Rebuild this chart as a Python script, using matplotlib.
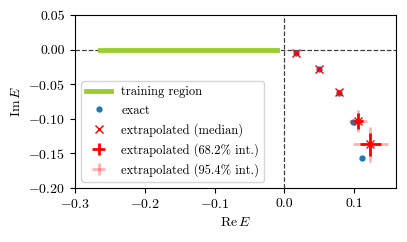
import numpy as np
import matplotlib
matplotlib.use("Agg")
import matplotlib.pyplot as plt

plt.rcParams["font.family"] = "serif"
plt.rcParams["font.serif"] = ["cmr10"]
plt.rcParams["mathtext.fontset"] = "cm"
plt.rcParams["axes.formatter.use_mathtext"] = True
plt.rcParams["font.size"] = 10

# training region on the real axis
train_re = [-0.264, -0.01]
train_im = [0.0, 0.0]

# exact resonance energies
re_exact = [0.017, 0.050, 0.078, 0.099, 0.111]
im_exact = [-0.005, -0.028, -0.062, -0.105, -0.157]

# extrapolated medians
re_med = [0.017, 0.050, 0.078, 0.106, 0.123]
im_med = [-0.005, -0.028, -0.061, -0.103, -0.137]

# half widths of the intervals
re_err68 = [0.002, 0.002, 0.002, 0.006, 0.015]
im_err68 = [0.002, 0.002, 0.003, 0.012, 0.017]
re_err95 = [0.003, 0.003, 0.004, 0.013, 0.025]
im_err95 = [0.003, 0.003, 0.004, 0.016, 0.025]

fig = plt.figure(figsize=(4.07, 2.42), dpi=100)
ax = fig.add_axes([0.184, 0.223, 0.789, 0.715])

ax.axhline(0, color="k", ls="--", lw=0.9, alpha=0.75, zorder=1)
ax.axvline(0, color="k", ls="--", lw=0.9, alpha=0.75, zorder=1)

ax.plot(train_re, train_im, color="yellowgreen", lw=3.5, label="training region", zorder=2)
ax.plot(re_exact, im_exact, "o", color="C0", ms=3.5, label="exact", zorder=3)
ax.plot(re_med, im_med, "x", color="red", ms=6, mew=1.0, label="extrapolated (median)", zorder=5)
ax.errorbar(re_med, im_med, xerr=re_err68, yerr=im_err68, fmt="none", ecolor="red",
            elinewidth=2, label="extrapolated (68.2% int.)", zorder=4)
ax.errorbar(re_med, im_med, xerr=re_err95, yerr=im_err95, fmt="none", ecolor="red",
            alpha=0.3, elinewidth=2, label="extrapolated (95.4% int.)", zorder=4)

ax.set_xlim(-0.3, 0.16)
ax.set_ylim(-0.2, 0.05)
ax.set_xticks([-0.3, -0.2, -0.1, 0.0, 0.1])
ax.set_yticks([0.05, 0.0, -0.05, -0.1, -0.15, -0.2])
ax.set_yticklabels(["0.05", "0.00", "$-0.05$", "$-0.10$", "$-0.15$", "$-0.20$"])
ax.set_xticklabels(["$-0.3$", "$-0.2$", "$-0.1$", "0.0", "0.1"])
ax.set_xlabel(r"$\mathrm{Re}\,E$")
ax.set_ylabel(r"$\mathrm{Im}\,E$")

ax.legend(loc="lower left", fontsize=9)

fig.savefig("out.png", dpi=100)
